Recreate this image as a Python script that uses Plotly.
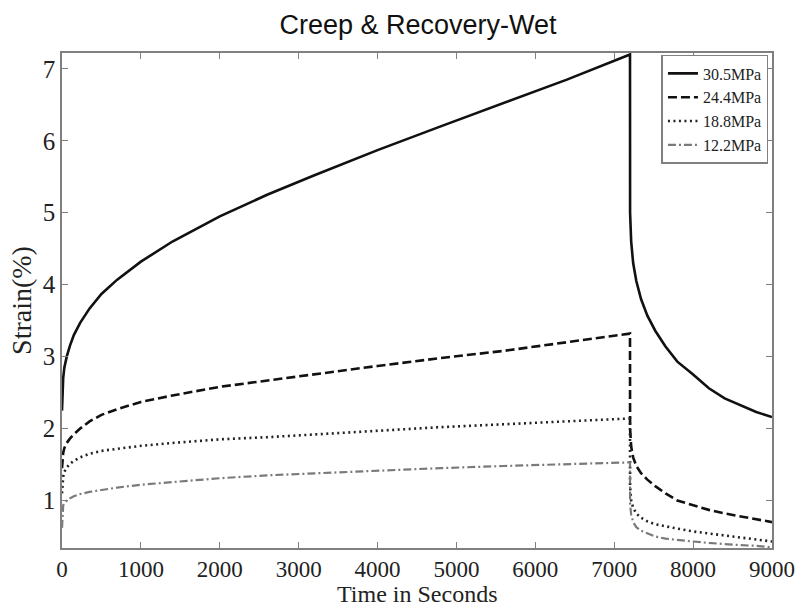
import plotly.graph_objects as go

# Time points (s)
t_creep = [0, 5, 15, 30, 60, 100, 150, 230, 350, 500, 700, 1000, 1400, 2000,
           2600, 3200, 4000, 4800, 5600, 6400, 7200]
t_recov = [7200, 7201, 7215, 7240, 7280, 7340, 7420, 7520, 7650, 7800, 8000,
           8200, 8400, 8600, 8800, 9000]

labels = ["30.5MPa", "24.4MPa", "18.8MPa", "12.2MPa"]

s305_creep = [2.25, 2.5, 2.7, 2.85, 3.0, 3.15, 3.3, 3.47, 3.67, 3.87, 4.07, 4.32,
              4.6, 4.95, 5.25, 5.52, 5.87, 6.2, 6.52, 6.85, 7.2]
s305_recov = [7.2, 5.0, 4.6, 4.3, 4.05, 3.8, 3.57, 3.36, 3.14, 2.93, 2.75,
              2.56, 2.42, 2.32, 2.23, 2.16]

s244_creep = [1.45, 1.58, 1.66, 1.73, 1.8, 1.86, 1.92, 2.0, 2.1, 2.19, 2.27, 2.37,
              2.46, 2.58, 2.67, 2.76, 2.87, 2.98, 3.08, 3.2, 3.32]
s244_recov = [3.32, 2.0, 1.75, 1.6, 1.48, 1.38, 1.29, 1.2, 1.1, 1.0, 0.93,
              0.87, 0.82, 0.78, 0.74, 0.70]

s188_creep = [1.1, 1.25, 1.33, 1.4, 1.46, 1.51, 1.55, 1.6, 1.65, 1.69, 1.72, 1.76,
              1.8, 1.85, 1.88, 1.92, 1.97, 2.02, 2.06, 2.1, 2.14]
s188_recov = [2.14, 1.2, 1.0, 0.9, 0.82, 0.76, 0.71, 0.67, 0.64, 0.61, 0.57,
              0.54, 0.51, 0.49, 0.46, 0.43]

s122_creep = [0.62, 0.85, 0.93, 0.97, 1.0, 1.03, 1.06, 1.09, 1.12, 1.15, 1.18, 1.22,
              1.26, 1.31, 1.35, 1.38, 1.42, 1.45, 1.48, 1.5, 1.53]
s122_recov = [1.53, 0.95, 0.8, 0.7, 0.63, 0.58, 0.54, 0.5, 0.47, 0.45, 0.43,
              0.41, 0.39, 0.38, 0.37, 0.35]

x_ticks = [0, 1000, 2000, 3000, 4000, 5000, 6000, 7000, 8000, 9000]
y_ticks = [1, 2, 3, 4, 5, 6, 7]

series = [
    (labels[0], s305_creep + s305_recov, dict(color="#111111", width=2.6, dash="solid")),
    (labels[1], s244_creep + s244_recov, dict(color="#111111", width=2.6, dash="9px,4px")),
    (labels[2], s188_creep + s188_recov, dict(color="#222222", width=2.6, dash="2px,3.5px")),
    (labels[3], s122_creep + s122_recov, dict(color="#7a7a7a", width=2.2, dash="8px,3px,2px,3px")),
]

t_all = t_creep + t_recov
fig = go.Figure()
for name, ys, line in series:
    fig.add_trace(go.Scatter(x=t_all, y=ys, mode="lines", name=name, line=line))

serif = "Liberation Serif, Times New Roman, serif"
line_common = dict(
    showline=True, linecolor="#808080", linewidth=1.5, mirror="ticks",
    ticks="inside", ticklen=6, tickcolor="#808080", tickwidth=1,
    showgrid=False, zeroline=False,
)

fig.update_layout(
    width=807, height=610,
    margin=dict(l=62, r=33, t=53, b=62),
    paper_bgcolor="white", plot_bgcolor="white",
    title=dict(text="Creep & Recovery-Wet", x=0.518, xanchor="center",
               y=1 - 25 / 610, yanchor="middle",
               font=dict(family="Liberation Sans, Arial, sans-serif", size=27, color="#111111")),
    xaxis=dict(range=[0, 9000], tickvals=x_ticks, ticklabelstandoff=0,
               tickfont=dict(family=serif, size=23, color="#222222"),
               **line_common),
    yaxis=dict(range=[0.34, 7.22], tickvals=y_ticks,
               tickfont=dict(family=serif, size=25, color="#222222"),
               title=dict(text="Strain(%)", standoff=3,
                          font=dict(family=serif, size=28, color="#222222")),
               **line_common),
    legend=dict(x=0.995, xanchor="right", y=0.996, yanchor="top",
                bgcolor="white", bordercolor="#808080", borderwidth=1.5,
                font=dict(family=serif, size=16, color="#222222"),
                tracegroupgap=0, itemwidth=30),
    showlegend=True,
    annotations=[dict(text="Time in Seconds", xref="paper", yref="paper",
                      x=0.5, xanchor="center", y=(548 - 609) / 495, yanchor="bottom",
                      showarrow=False,
                      font=dict(family=serif, size=24, color="#222222"))],
)

fig.write_html("out.html")
